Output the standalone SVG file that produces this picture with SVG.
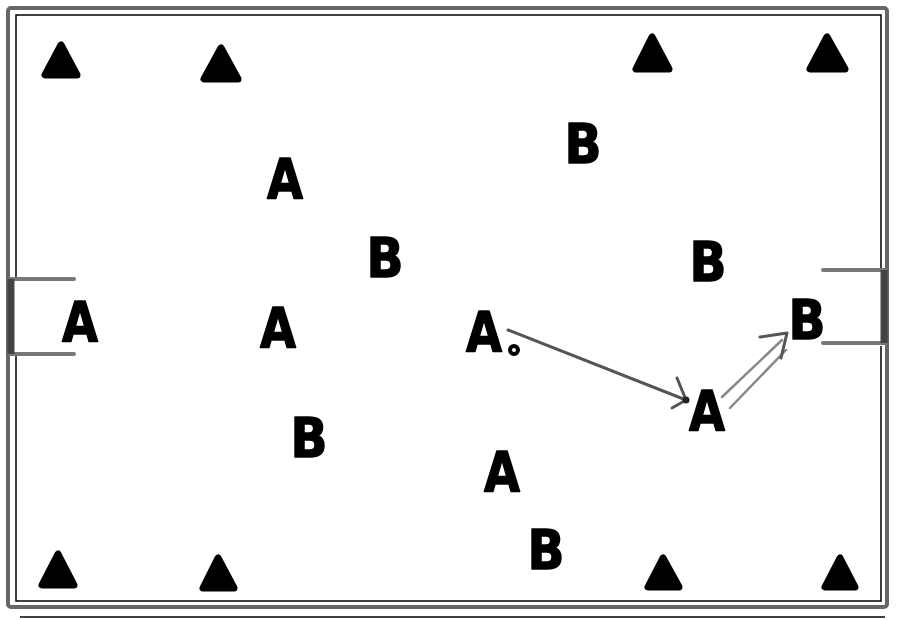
<svg xmlns="http://www.w3.org/2000/svg" width="900" height="620" viewBox="0 0 900 620">
<style>
.frame{fill:none;stroke:#666;stroke-width:4;stroke-linejoin:round}
.inner{fill:none;stroke:#000;stroke-width:1.5}
.goal{fill:none;stroke:#777;stroke-width:4;stroke-linecap:round;stroke-linejoin:round}
.post{stroke:#444;stroke-width:7}
.cone{fill:#000;stroke:#000;stroke-width:7;stroke-linejoin:round}
.lbl{font-family:"DejaVu Sans","Liberation Sans",sans-serif;font-weight:bold;font-size:55px;fill:#000;stroke:#000;stroke-width:1.5;stroke-linejoin:round;text-anchor:middle}
.run{fill:none;stroke:#555;stroke-width:3;stroke-linecap:round;stroke-linejoin:round}
.pass{fill:none;stroke:#888;stroke-width:2.5;stroke-linecap:round}
</style>
<rect x="0" y="0" width="900" height="620" fill="#fff"/>
<g id="field">
<rect class="frame" x="8" y="8" width="879" height="599" rx="3"/>
<path class="inner" d="M16 278 V15 H881 V268 M881 346 V601 H16 V356"/>
<line x1="20" y1="617" x2="885" y2="617" stroke="#000" stroke-width="1.5"/>
</g>
<g id="goal-left">
<path class="goal" d="M74 279 H10 V354 H74"/>
<line class="post" x1="11" y1="279" x2="11" y2="354"/>
</g>
<g id="goal-right">
<path class="goal" d="M823 270 H885 V343 H823"/>
<line class="post" x1="884" y1="270" x2="884" y2="343"/>
</g>
<g id="cones">
<polygon class="cone" points="61,45 45,75 77,75"/>
<polygon class="cone" points="221,48 204,79 238,79"/>
<polygon class="cone" points="652,37 636,69 669,69"/>
<polygon class="cone" points="827,37 810,69 845,69"/>
<polygon class="cone" points="58,554 42,585 74,585"/>
<polygon class="cone" points="218,558 203,588 234,588"/>
<polygon class="cone" points="663,558 648,587 679,587"/>
<polygon class="cone" points="840,558 825,587 855,587"/>
</g>
<g id="connectors">
<line class="run" x1="508" y1="330" x2="686" y2="400"/>
<path class="run" d="M677 378 L686 400 L672 408"/>
<circle cx="686" cy="400" r="3.5" fill="#222"/>
<line class="pass" x1="722" y1="397" x2="782" y2="340"/>
<line class="pass" x1="730" y1="408" x2="786" y2="350"/>
<path class="run" d="M760 337 L787 333 L781 358"/>
</g>
<g id="n-a1"><text class="lbl" x="285" y="198" textLength="36" lengthAdjust="spacingAndGlyphs">A</text></g>
<g id="n-b1"><text class="lbl" x="583" y="163" textLength="37" lengthAdjust="spacingAndGlyphs">B</text></g>
<g id="n-b2"><text class="lbl" x="385" y="277" textLength="37" lengthAdjust="spacingAndGlyphs">B</text></g>
<g id="n-b3"><text class="lbl" x="708" y="281" textLength="37" lengthAdjust="spacingAndGlyphs">B</text></g>
<g id="n-a-goal"><text class="lbl" x="80" y="341" textLength="36" lengthAdjust="spacingAndGlyphs">A</text></g>
<g id="n-a2"><text class="lbl" x="278" y="347" textLength="36" lengthAdjust="spacingAndGlyphs">A</text></g>
<g id="n-a-ball"><text class="lbl" x="484" y="351" textLength="36" lengthAdjust="spacingAndGlyphs">A</text><circle cx="514" cy="350" r="4" fill="#fff" stroke="#000" stroke-width="4"/></g>
<g id="n-a3"><text class="lbl" x="707" y="430" textLength="36" lengthAdjust="spacingAndGlyphs">A</text></g>
<g id="n-b-goal"><text class="lbl" x="807" y="339" textLength="37" lengthAdjust="spacingAndGlyphs">B</text></g>
<g id="n-b4"><text class="lbl" x="309" y="457" textLength="37" lengthAdjust="spacingAndGlyphs">B</text></g>
<g id="n-a4"><text class="lbl" x="502" y="491" textLength="36" lengthAdjust="spacingAndGlyphs">A</text></g>
<g id="n-b5"><text class="lbl" x="546" y="569" textLength="37" lengthAdjust="spacingAndGlyphs">B</text></g>
</svg>
